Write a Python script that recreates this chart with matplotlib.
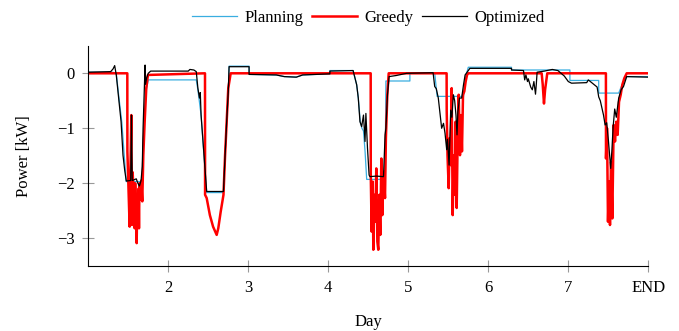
import numpy as np
import matplotlib
matplotlib.use("Agg")
import matplotlib.pyplot as plt

plt.rcParams['font.family'] = ['Liberation Serif', 'DejaVu Serif']
plt.rcParams['font.size'] = 12

# values (day, kW)
planning_day = [1.0, 1.30, 1.35, 1.38, 1.42, 1.45, 1.475, 1.67, 1.69, 1.72, 1.75, 1.77,
                2.35, 2.37, 2.41, 2.455, 2.48, 2.69, 2.71, 2.73, 2.75, 2.76, 3.01, 3.01,
                3.35, 3.45, 3.6, 3.68, 4.02, 4.02, 4.31, 4.355, 4.375, 4.40, 4.42, 4.44,
                4.46, 4.48, 4.71, 4.72, 5.02, 5.02, 5.33, 5.36, 5.69, 5.72, 5.75, 6.29,
                6.29, 7.02, 7.02, 7.38, 7.38, 7.63, 7.66, 7.70, 7.73, 8.0]
planning_kw = [0.02, 0.02, 0.0, -0.4, -0.9, -1.5, -1.97, -1.97, -1.2, -0.35, -0.12, -0.12,
               -0.12, -0.3, -0.76, -1.67, -2.17, -2.17, -1.49, -0.88, -0.33, 0.13, 0.13, -0.02,
               -0.03, -0.06, -0.07, -0.03, -0.01, 0.05, 0.05, -0.21, -0.45, -0.88, -1.0, -1.05,
               -1.43, -1.93, -1.93, -0.14, -0.14, 0.01, 0.01, -0.42, -0.42, -0.05, 0.11, 0.11,
               0.06, 0.06, -0.13, -0.13, -0.36, -0.36, -0.25, -0.12, -0.06, -0.06]

greedy_day = [1.0, 1.488, 1.489, 1.505, 1.517, 1.530, 1.538, 1.546, 1.555, 1.563, 1.572,
              1.580, 1.586, 1.592, 1.598, 1.605, 1.613, 1.621, 1.628, 1.634, 1.640, 1.646,
              1.655, 1.663, 1.670, 1.675, 1.688, 1.705, 1.725, 1.746, 2.459,
              2.460, 2.48, 2.52, 2.56, 2.605, 2.625, 2.655, 2.69, 2.71, 2.73, 2.75, 2.78,
              4.53, 4.531, 4.542, 4.555, 4.563, 4.575, 4.588, 4.60, 4.613, 4.625, 4.638,
              4.65, 4.663, 4.675, 4.692, 4.709, 4.72, 4.738, 4.755,
              5.479, 5.48, 5.49, 5.505, 5.517, 5.53, 5.542, 5.555, 5.567, 5.58, 5.592,
              5.605, 5.617, 5.63, 5.646, 5.659, 5.671, 5.684, 5.70, 5.717, 5.734, 5.75,
              6.667, 6.68, 6.696, 6.71, 6.737,
              7.470, 7.471, 7.484, 7.496, 7.509, 7.521, 7.534, 7.55, 7.567, 7.584, 7.60,
              7.617, 7.634, 7.655, 7.675, 7.70, 7.73, 8.0]
greedy_kw = [0.0, 0.0, -1.42, -2.21, -2.79, -1.49, -0.76, -2.76, -1.8, -2.09, -2.5,
             -2.82, -2.0, -2.3, -2.6, -3.09, -2.2, -2.58, -2.1, -2.82, -2.0, -2.09,
             -2.3, -1.95, -2.2, -2.33, -1.49, -0.88, -0.27, -0.03, 0.0,
             -2.21, -2.27, -2.58, -2.79, -2.94, -2.82, -2.52, -2.21, -1.49, -0.88, -0.27, 0.0,
             0.0, -1.85, -2.88, -1.97, -3.21, -2.21, -2.7, -1.73, -3.06, -3.21, -2.21,
             -2.94, -1.55, -2.58, -1.79, -2.27, -1.18, -0.39, 0.0,
             0.0, -0.67, -1.49, -2.09, -1.18, -1.67, -0.27, -2.58, -1.49, -2.21, -0.88,
             -2.45, -1.18, -0.39, -1.49, -0.76, -1.42, -0.39, -0.33, -0.15, -0.03, 0.0,
             0.0, -0.2, -0.55, -0.3, 0.0,
             0.0, -1.55, -1.0, -2.7, -1.97, -2.76, -1.61, -2.64, -0.94, -1.24, -0.88,
             -1.12, -0.52, -0.39, -0.21, -0.09, 0.0, 0.0]

optimized_day = [1.0, 1.28, 1.31, 1.33, 1.34, 1.35, 1.38, 1.41, 1.434, 1.455, 1.475, 1.53,
                 1.535, 1.54, 1.545, 1.55, 1.60, 1.62, 1.64, 1.66, 1.675, 1.685, 1.70, 1.71,
                 1.715, 1.73, 1.75, 1.78, 2.25, 2.27, 2.32, 2.35, 2.37, 2.39, 2.40, 2.41,
                 2.455, 2.48, 2.69, 2.71, 2.73, 2.75, 2.76, 3.01, 3.01, 3.35, 3.45, 3.6,
                 3.68, 4.02, 4.02, 4.31, 4.355, 4.375, 4.396, 4.417, 4.44, 4.459, 4.47, 4.49,
                 4.51, 4.52, 4.60, 4.69, 4.71, 4.72, 4.74, 4.76, 4.85, 4.98, 5.31,
                 5.33, 5.35, 5.375, 5.396, 5.417, 5.44, 5.459, 5.48, 5.49, 5.51, 5.52, 5.53,
                 5.545, 5.563, 5.58, 5.596, 5.609, 5.62, 5.64, 5.667, 5.69, 5.71, 5.77, 6.29,
                 6.29, 6.44, 6.455, 6.47, 6.49, 6.50, 6.53, 6.55, 6.57, 6.59, 6.60, 6.61,
                 6.70, 6.80, 6.87, 6.95, 7.0, 7.04, 7.23, 7.25, 7.30, 7.36, 7.38, 7.40,
                 7.44, 7.46, 7.48, 7.50, 7.53, 7.545, 7.56, 7.58, 7.60, 7.63, 7.66, 7.69,
                 7.73, 8.0]
optimized_kw = [0.02, 0.03, 0.08, 0.14, 0.05, -0.03, -0.45, -0.88, -1.49, -1.76, -1.96, -1.95,
                -1.3, -0.76, -1.5, -1.95, -1.92, -2.0, -2.05, -1.95, -1.7, -1.0, -0.27, 0.15,
                -0.2, -0.08, 0.0, 0.04, 0.04, 0.07, 0.06, 0.03, -0.27, -0.45, -0.35, -0.76,
                -1.67, -2.15, -2.15, -1.49, -0.88, -0.33, 0.12, 0.12, -0.02, -0.03, -0.06, -0.07,
                -0.03, -0.01, 0.04, 0.05, -0.21, -0.45, -0.88, -0.97, -0.76, -1.24, -0.73, -1.36,
                -1.85, -1.88, -1.87, -1.88, -1.12, -1.0, -0.39, -0.06, -0.04, 0.0, 0.01,
                -0.24, -0.28, -0.45, -0.73, -1.0, -0.91, -1.09, -1.39, -1.2, -1.67, -1.2, -0.67,
                -0.8, -0.39, -0.5, -0.76, -1.12, -0.7, -0.45, -0.45, -0.21, -0.03, 0.09, 0.09,
                0.06, 0.05, -0.12, -0.03, -0.15, -0.1, -0.25, -0.3, -0.15, -0.38, -0.2, 0.02,
                0.04, 0.07, 0.05, -0.05, -0.15, -0.18, -0.17, -0.12, -0.18, -0.25, -0.43, -0.5,
                -0.76, -0.94, -0.9, -1.2, -1.73, -1.4, -0.98, -0.65, -0.8, -0.45, -0.3, -0.24,
                -0.06, -0.07]

x_ticks = [2, 3, 4, 5, 6, 7, 8]
x_ticklabels = ['2', '3', '4', '5', '6', '7', 'END']
y_ticks = [-3, -2, -1, 0]

fig = plt.figure(figsize=(6.79, 3.31), dpi=100)
ax = fig.add_axes([0.130, 0.1973, 0.8248, 0.6643])

ax.plot(planning_day, planning_kw, color='#3aaee0', lw=0.9, label='Planning')
ax.plot(greedy_day, greedy_kw, color='#ff0000', lw=1.8, label='Greedy')
ax.plot(optimized_day, optimized_kw, color='black', lw=0.9, label='Optimized')

ax.set_xlim(1, 8)
ax.set_ylim(-3.5, 0.5)
ax.set_xticks(x_ticks)
ax.set_xticklabels(x_ticklabels)
ax.set_yticks(y_ticks)

for side in ['top', 'right']:
    ax.spines[side].set_visible(False)
for side in ['left', 'bottom']:
    ax.spines[side].set_linewidth(0.8)

ax.tick_params(direction='inout', length=8, width=0.8, color='#999999', pad=6)

ax.set_xlabel('Day', labelpad=13)
ax.set_ylabel('Power [kW]', labelpad=18)

fig.legend(loc='center', bbox_to_anchor=(0.5424, 0.9456), ncol=3, frameon=False,
           handlelength=2.7, handletextpad=0.45, columnspacing=0.5)

fig.savefig('out.png', dpi=100)
